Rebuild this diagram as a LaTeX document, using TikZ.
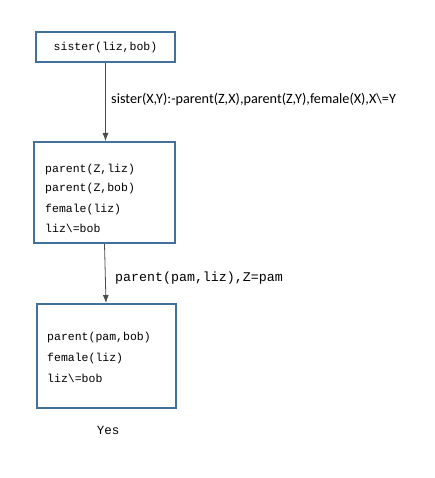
\documentclass[tikz,border=0pt]{standalone}
\usepackage{fontspec}
\setmainfont{Carlito}
\newfontfamily\codefont{Liberation Mono}
\usetikzlibrary{arrows.meta}
\definecolor{boxblue}{HTML}{41719C}
\tikzset{
  goalbox/.style={draw=boxblue, line width=2pt, fill=white, inner sep=0pt},
  codetext/.style={font=\codefont\fontsize{11.5}{13}\selectfont, inner sep=0pt, anchor=base west},
  edgelabel/.style={font=\fontsize{14.2}{16}\selectfont, inner sep=0pt, anchor=base west},
  arrowline/.style={draw=black!70, line width=0.8pt, -{Latex[length=8pt,width=6pt]}}
}
\begin{document}
\begin{tikzpicture}[x=1pt,y=-1pt]
\useasboundingbox (0,0) rectangle (435,478);
\node[goalbox, minimum width=139pt, minimum height=30pt] (b1) at (105.5,47) {};
\node[codetext, anchor=base] (t1) at (105.5,51) {sister(liz,bob)};
\node[goalbox, minimum width=141pt, minimum height=101pt] (b2) at (104.5,192.5) {};
\node[codetext] (t21) at (45,172) {parent(Z,liz)};
\node[codetext] (t22) at (45,192) {parent(Z,bob)};
\node[codetext] (t23) at (45,212) {female(liz)};
\node[codetext] (t24) at (45,232) {liz\textbackslash=bob};
\node[goalbox, minimum width=139pt, minimum height=104pt] (b3) at (106.5,356) {};
\node[codetext] (t31) at (47,340) {parent(pam,bob)};
\node[codetext] (t32) at (47,361) {female(liz)};
\node[codetext] (t33) at (47,382) {liz\textbackslash=bob};
\node[codetext, anchor=base, font=\codefont\fontsize{12.5}{14}\selectfont] (yes) at (108,434) {Yes};
\draw[arrowline] (b1.south) -- (b2.north -| b1.south);
\node[edgelabel] (l1) at (111,104) {sister(X,Y):-parent(Z,X),parent(Z,Y),female(X),X\textbackslash=Y};
\draw[arrowline] (b2.south) -- ([xshift=-0.5pt]b3.north);
\node[codetext, font=\codefont\fontsize{13.3}{15}\selectfont] (l2) at (115,281.5) {parent(pam,liz),Z=pam};
\end{tikzpicture}
\end{document}
